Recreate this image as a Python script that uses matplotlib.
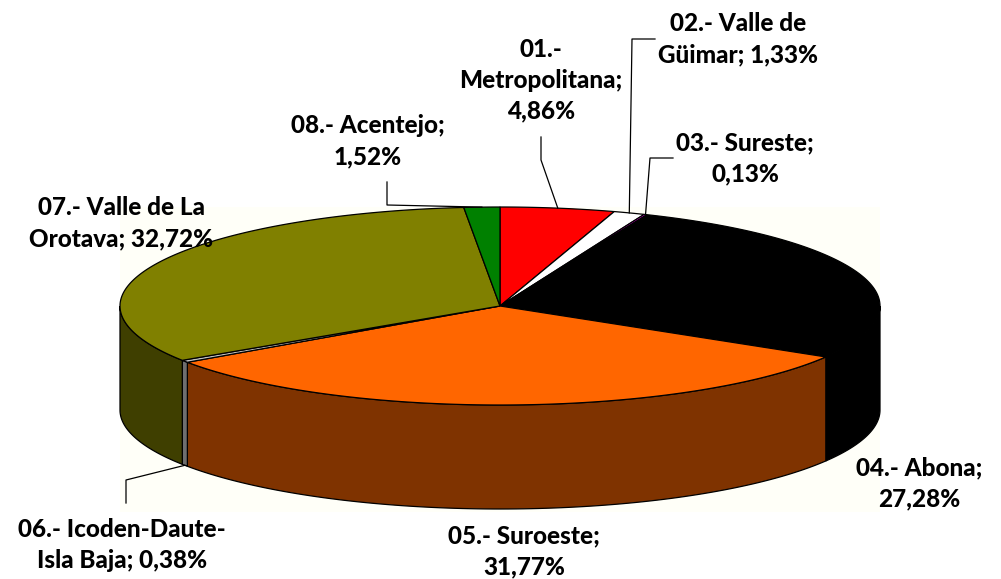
import numpy as np
import matplotlib
matplotlib.use("Agg")
import matplotlib.pyplot as plt
from matplotlib.patches import Polygon, Rectangle

# ---- data ----
labels = ["01.-\nMetropolitana;\n4,86%", "02.- Valle de\nGüimar; 1,33%", "03.- Sureste;\n0,13%",
          "04.- Abona;\n27,28%", "05.- Suroeste;\n31,77%", "06.- Icoden-Daute-\nIsla Baja; 0,38%",
          "07.- Valle de La\nOrotava; 32,72%", "08.- Acentejo;\n1,52%"]
values = [4.86, 1.33, 0.13, 27.28, 31.77, 0.38, 32.72, 1.52]
top_colors = ["#FF0000", "#FFFFFF", "#FF00FF", "#000000", "#FF6600", "#C0C0C0", "#808000", "#008000"]
side_colors = ["#800000", "#808080", "#800080", "#000000", "#7F3300", "#6E6E6E", "#3F3F00", "#004000"]

# ---- layout ----
W, H = 1001, 579
cx, cy, a, b, depth = 500, 306, 380, 99, 104
label_pos = [(541, 80), (738, 39), (745, 158), (919, 483), (524, 551), (122, 545), (121, 223), (368, 141)]
# leader: (start, elbow) or None
leaders = [((541, 137), (541, 160)), ((655, 39), (632, 39)), ((673, 158), (650, 158)),
           None, None, ((126, 503), (126, 480)), None, ((387, 182), (387, 205))]

fig = plt.figure(figsize=(W / 100, H / 100), dpi=100)
ax = fig.add_axes([0, 0, 1, 1])
ax.set_xlim(0, W)
ax.set_ylim(H, 0)
ax.axis("off")

ax.add_patch(Rectangle((120, 207), 760, 305, facecolor="#FFFFF8", edgecolor="none", zorder=0))

def pt(theta_deg, dy=0.0):
    t = np.radians(theta_deg)
    return cx + a * np.sin(t), cy - b * np.cos(t) + dy

total = sum(values)
starts = np.concatenate([[0], np.cumsum(values)[:-1]]) / total * 360
ends = np.cumsum(values) / total * 360

# side faces
for s, e, sc in zip(starts, ends, side_colors):
    lo, hi = max(s, 90), min(e, 270)
    if hi <= lo:
        continue
    th = np.linspace(lo, hi, 100)
    xs, ys = pt(th)
    xb, yb = pt(th[::-1], depth)
    poly = np.column_stack([np.concatenate([xs, xb]), np.concatenate([ys, yb])])
    ax.add_patch(Polygon(poly, closed=True, facecolor=sc, edgecolor="black", lw=0.9, zorder=2))

# top faces
for s, e, tc in zip(starts, ends, top_colors):
    th = np.linspace(s, e, max(3, int((e - s) * 2)))
    xs, ys = pt(th)
    poly = np.column_stack([np.concatenate([[cx], xs]), np.concatenate([[cy], ys])])
    ax.add_patch(Polygon(poly, closed=True, facecolor=tc, edgecolor="black", lw=0.9, zorder=3))

# labels & leaders
for i, (lab, (lx, ly)) in enumerate(zip(labels, label_pos)):
    ax.text(lx, ly, lab, ha="center", va="center", fontsize=17.5, fontweight="black",
            family="Lato", linespacing=1.42, color="black", zorder=5)
    if leaders[i] is not None:
        mid = (starts[i] + ends[i]) / 2
        if 90 <= mid <= 270:
            ex, ey = pt(mid, depth)
        else:
            ex, ey = pt(mid)
        (x0, y0), (x1, y1) = leaders[i]
        ax.plot([x0, x1, ex], [y0, y1, ey], color="black", lw=0.9, zorder=4)

fig.savefig("out.png", dpi=100)
